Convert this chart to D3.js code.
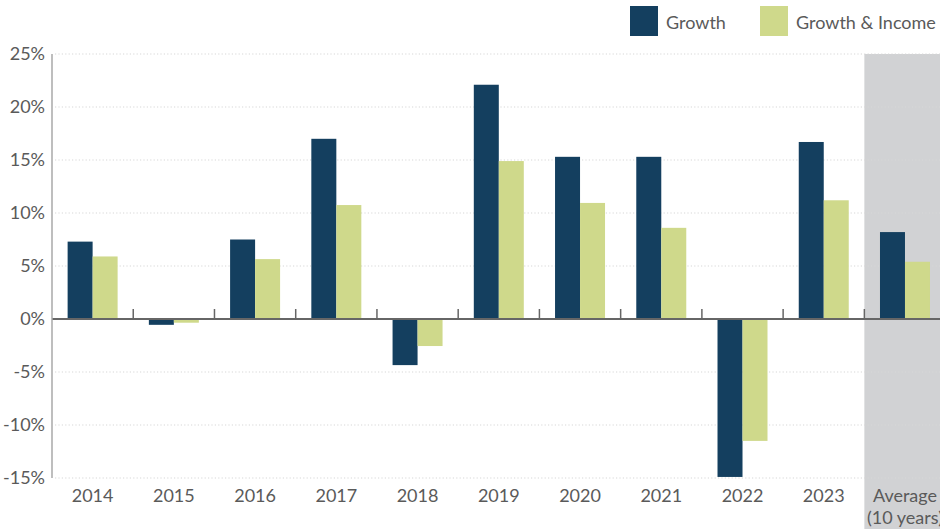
<!DOCTYPE html>
<html><head><meta charset="utf-8">
<script src="https://cdn.jsdelivr.net/npm/d3@7"></script>
<style>
body{margin:0;background:#fff;}
text{font-family:Lato,"Open Sans",sans-serif;fill:#5a5a5a;}
</style></head>
<body><svg id="c" width="940" height="529"></svg>
<script>
const categories = ["2014","2015","2016","2017","2018","2019","2020","2021","2022","2023","Average\n(10 years)"];
const growth =       [7.3, -0.55, 7.5, 17.0, -4.35, 22.1, 15.3, 15.3, -14.9, 16.7, 8.2];
const growthIncome = [5.9, -0.35, 5.65, 10.75, -2.55, 14.9, 10.95, 8.6, -11.5, 11.2, 5.4];
const seriesNames = ["Growth","Growth & Income"];
const colors = ["#143f5f","#cfd98b"];
const yTicks = [-15,-10,-5,0,5,10,15,20,25];

(function(){
const svg = d3.select("#c");
const mLeft = 52, mRight = 945.6, mTop = 54, mBottom = 478;
const x = d3.scaleBand().domain(categories).range([mLeft, mRight]).paddingInner(0).paddingOuter(0);
const y = d3.scaleLinear().domain([-15,25]).range([mBottom, mTop]);
const xs = d3.scaleBand().domain(seriesNames).range([0, x.bandwidth()]).paddingInner(0).paddingOuter(0.625);

// shaded average band
const avg = categories[categories.length-1];
svg.append("rect").attr("x", x(avg)).attr("y", mTop).attr("width", x.bandwidth()).attr("height", 529-mTop).attr("fill","#d1d2d4");

// gridlines
svg.append("g").selectAll("line").data(yTicks.filter(d=>d!==0)).join("line")
  .attr("x1", mLeft+3).attr("x2", 940).attr("y1", d=>y(d)).attr("y2", d=>y(d))
  .attr("stroke","#d8d8d8").attr("stroke-width",1.2).attr("stroke-dasharray","1.2,2.2");

// bars
const data = categories.map((c,i)=>({c, vals:[growth[i], growthIncome[i]]}));
const g = svg.append("g");
data.forEach(d=>{
  d.vals.forEach((v,j)=>{
    g.append("rect").attr("x", x(d.c)+xs(seriesNames[j])).attr("width", xs.bandwidth())
      .attr("y", y(Math.max(0,v))).attr("height", Math.abs(y(v)-y(0))).attr("fill", colors[j]);
  });
});

// zero line and ticks
svg.append("line").attr("x1",mLeft).attr("x2",940).attr("y1",y(0)).attr("y2",y(0)).attr("stroke","#666").attr("stroke-width",2);
svg.append("g").selectAll("line").data(categories.slice(1)).join("line")
  .attr("x1",d=>x(d)).attr("x2",d=>x(d)).attr("y1",y(0)).attr("y2",y(0)-10)
  .attr("stroke","#666").attr("stroke-width",1.5);

// left axis
svg.append("line").attr("x1",mLeft).attr("x2",mLeft).attr("y1",mTop).attr("y2",mBottom).attr("stroke","#a8a8a8").attr("stroke-width",1.5);

// y labels
svg.append("g").selectAll("text").data(yTicks).join("text")
  .attr("x",45).attr("y",d=>y(d)).attr("dy","0.36em").attr("text-anchor","end")
  .attr("font-size",18).text(d=>d+"%");

// x labels
svg.append("g").selectAll("text").data(categories).join("text")
  .attr("x",d=>x(d)+x.bandwidth()/2).attr("y",502).attr("text-anchor","middle").attr("font-size",18)
  .each(function(d){
    const lines = d.split("\n");
    const t = d3.select(this);
    lines.forEach((l,i)=>t.append("tspan").attr("x",x(d)+x.bandwidth()/2).attr("dy",i?22:0).text(l));
  });

// legend
const lg = [{x:630,tx:666},{x:760,tx:796}];
seriesNames.forEach((n,i)=>{
  svg.append("rect").attr("x",lg[i].x).attr("y",6).attr("width",28).attr("height",30).attr("fill",colors[i]);
  svg.append("text").attr("x",lg[i].tx).attr("y",29).attr("font-size",18).text(n);
});
})();
</script></body></html>
